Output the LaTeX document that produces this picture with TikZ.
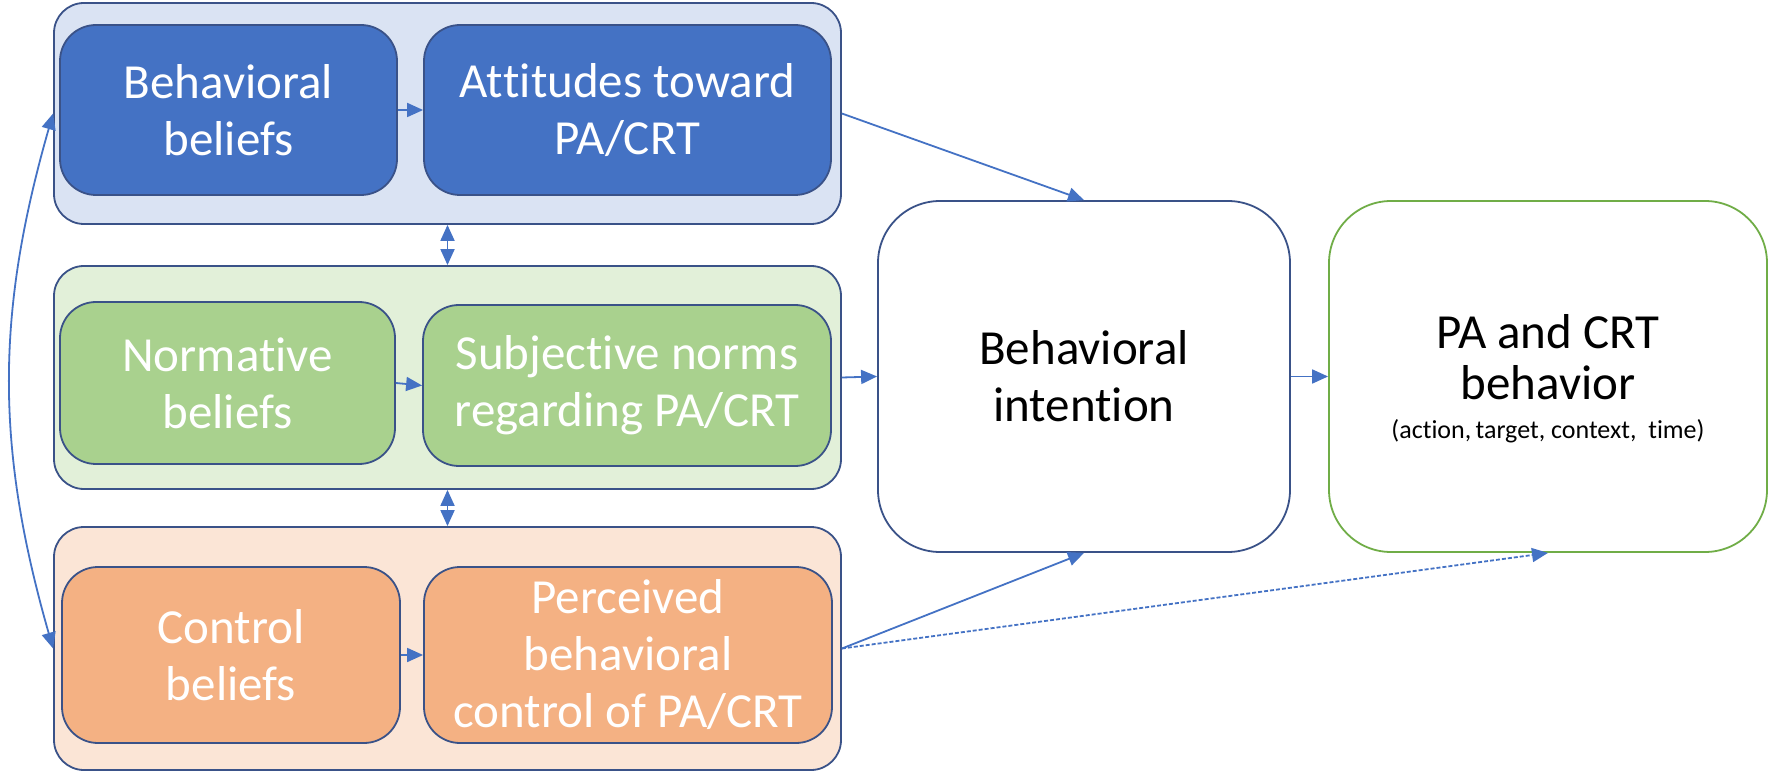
\documentclass[tikz,border=0pt]{standalone}
\usepackage{fontspec}
\setmainfont[Ligatures=NoCommon]{Carlito}
\usetikzlibrary{arrows.meta}
\newcommand{\tiN}{t\kern0pt i}
\definecolor{dblue}{HTML}{4472C4}
\definecolor{lblue}{HTML}{DAE3F3}
\definecolor{dgreen}{HTML}{A9D18E}
\definecolor{lgreen}{HTML}{E2F0D9}
\definecolor{dorange}{HTML}{F4B183}
\definecolor{lorange}{HTML}{FBE5D6}
\definecolor{edge}{HTML}{3A5288}
\definecolor{gedge}{HTML}{70AD47}
\definecolor{arr}{HTML}{4472C4}
\begin{document}
\begin{tikzpicture}[x=1pt,y=-1pt,
  grp/.style={draw=edge,line width=1.8pt,rounded corners=30pt,inner sep=0pt},
  inbox/.style={draw=edge,line width=1.8pt,rounded corners=36pt,inner sep=0pt,align=center,text=white,font=\fontsize{49}{57}\selectfont},
  bigbox/.style={draw=edge,line width=1.8pt,rounded corners=62pt,inner sep=0pt,align=center,fill=white,font=\fontsize{49}{57}\selectfont},
  con/.style={draw=arr,line width=1.8pt,-{Triangle[length=16pt,width=14pt]}},
  dcon/.style={draw=arr,line width=1.8pt,{Triangle[length=16pt,width=14pt]}-{Triangle[length=16pt,width=14pt]}}
]
\useasboundingbox (0,0) rectangle (1770,775);
% groups
\node[grp,fill=lblue,minimum width=787pt,minimum height=221pt] (G1) at (447.5,113.5) {};
\node[grp,fill=lgreen,minimum width=787pt,minimum height=223pt] (G2) at (447.5,377.5) {};
\node[grp,fill=lorange,minimum width=787pt,minimum height=243pt] (G3) at (447.5,648.5) {};
% inner boxes
\node[inbox,fill=dblue,minimum width=337pt,minimum height=170pt] (BB) at (228.5,110) {Behavioral\\beliefs};
\node[inbox,fill=dblue,minimum width=407pt,minimum height=170pt] (AT) at (627.5,110) {At\kern0pt t\kern0pt itudes toward\\PA/CRT};
\node[inbox,fill=dgreen,minimum width=335pt,minimum height=162pt] (NB) at (227.5,383) {Norma\tiN ve\\beliefs};
\node[inbox,fill=dgreen,minimum width=408pt,minimum height=161pt] (SN) at (627,385.5) {Subjec\tiN ve norms\\regarding PA/CRT};
\node[inbox,fill=dorange,minimum width=338pt,minimum height=176pt] (CB) at (231,655) {Control\\beliefs};
\node[inbox,fill=dorange,minimum width=408pt,minimum height=176pt] (PB) at (628,655) {Perceived\\behavioral\\control of PA/CRT};
% big boxes
\node[bigbox,minimum width=412pt,minimum height=351pt] (BI) at (1084,376.5) {Behavioral\\inten\tiN on};
\node[bigbox,draw=gedge,minimum width=438pt,minimum height=351pt,font=\fontsize{49}{51}\selectfont] (PA) at (1548,376.5)
  {\raisebox{-7pt}[\height][\depth]{\begin{tabular}{@{}c@{}}PA and CRT\\behavior\\[-12pt]{\fontsize{26}{30}\selectfont (ac\tiN on,\,target, context, \ \tiN me)}\end{tabular}}};
% connectors
\draw[con] (BB.east) -- (AT.west);
\draw[con] (NB.east) -- (SN.west);
\draw[con] (CB.east) -- (PB.west);
\draw[con] (G1.east) -- (BI.north);
\draw[con] (G2.east) -- (BI.west);
\draw[con] (G3.east) -- (BI.south);
\draw[con] (BI.east) -- (PA.west);
\draw[con,dash pattern=on 4pt off 2pt] (G3.east) -- (PA.south);
\draw[dcon] (G1.south) -- (G2.north);
\draw[dcon] (G2.south) -- (G3.north);
\draw[dcon] (G1.west) to[bend right=16] (G3.west);
\end{tikzpicture}
\end{document}
